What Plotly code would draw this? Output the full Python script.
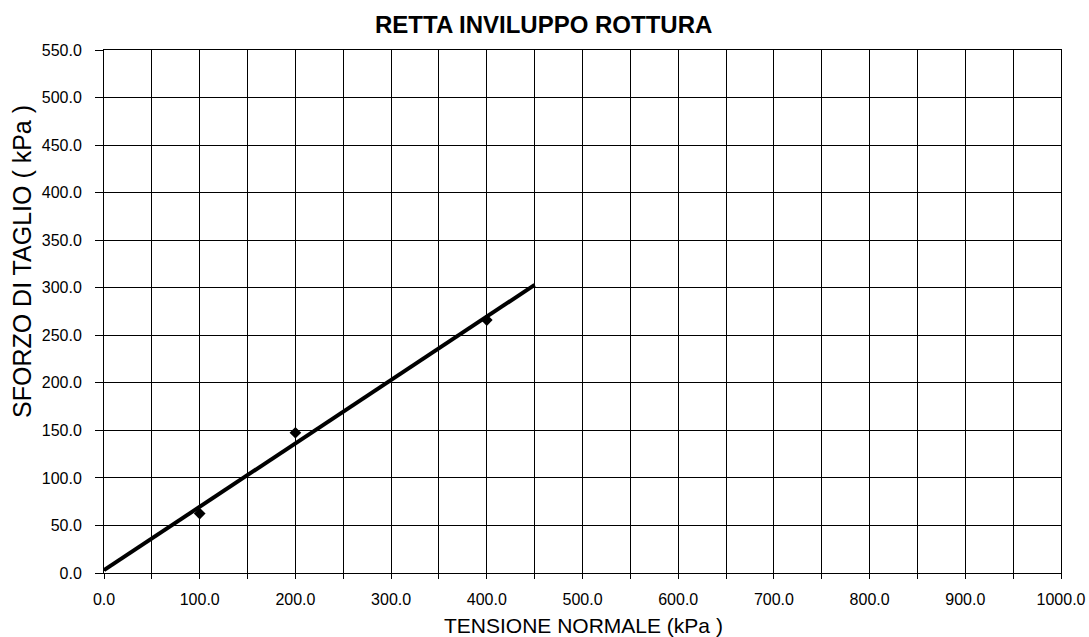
import plotly.graph_objects as go

# Shear test results: normal stress vs. shear stress at failure (kPa)
tensione_normale = [100.0, 200.0, 400.0]
sforzo_taglio = [62.5, 147.5, 266.0]

# Failure envelope endpoints (kPa)
retta_x = [0.0, 450.0]
retta_y = [3.0, 303.0]

x_ticks = [0, 100, 200, 300, 400, 500, 600, 700, 800, 900, 1000]
y_ticks = [0, 50, 100, 150, 200, 250, 300, 350, 400, 450, 500, 550]

fig = go.Figure()

fig.add_trace(go.Scatter(
    x=retta_x, y=retta_y, mode="lines",
    line=dict(color="black", width=4),
    showlegend=False, hoverinfo="skip",
))
fig.add_trace(go.Scatter(
    x=tensione_normale, y=sforzo_taglio, mode="markers",
    marker=dict(symbol="diamond", size=9, color="black"),
    showlegend=False,
))

font_family = "Liberation Sans, Arial, sans-serif"
W, H = 1089, 637
ML, MR, MT, MB = 104, 28, 50, 64

fig.update_layout(
    width=W, height=H,
    margin=dict(l=ML, r=MR, t=MT, b=MB, autoexpand=False),
    paper_bgcolor="white", plot_bgcolor="white",
    font=dict(family=font_family, color="black", size=16),
    xaxis=dict(
        range=[0, 1000],
        tickvals=x_ticks,
        ticktext=[f"{v:.1f}" for v in x_ticks],
        showgrid=True, gridcolor="black", gridwidth=1,
        minor=dict(dtick=50, showgrid=True, gridcolor="black", gridwidth=1,
                   ticks="outside", ticklen=5, tickcolor="black"),
        ticks="outside", ticklen=5, tickcolor="black",
        ticklabelstandoff=7,
        showline=True, linecolor="black", linewidth=1, mirror=True,
        zeroline=False, automargin=False,
        tickfont=dict(size=16),
    ),
    yaxis=dict(
        range=[0, 550],
        tickvals=y_ticks,
        ticktext=[f"{v:.1f}" for v in y_ticks],
        showgrid=True, gridcolor="black", gridwidth=1,
        ticks="outside", ticklen=8, tickcolor="black",
        ticklabelstandoff=10,
        showline=True, linecolor="black", linewidth=1, mirror=True,
        zeroline=False, automargin=False,
        tickfont=dict(size=16),
    ),
)

# Chart title and axis titles placed as paper-anchored text
fig.add_annotation(
    text="<b>RETTA INVILUPPO ROTTURA</b>",
    xref="paper", yref="paper",
    x=(543 - ML) / (W - ML - MR), y=(H - MB - 25) / (H - MT - MB),
    xanchor="center", yanchor="middle", showarrow=False,
    font=dict(size=24, family=font_family, color="black"),
)
fig.add_annotation(
    text="TENSIONE NORMALE (kPa )",
    xref="paper", yref="paper",
    x=(583 - ML) / (W - ML - MR), y=(H - MB - 625) / (H - MT - MB),
    xanchor="center", yanchor="middle", showarrow=False,
    font=dict(size=21, family=font_family, color="black"),
)
fig.add_annotation(
    text="SFORZO DI TAGLIO ( kPa )",
    xref="paper", yref="paper",
    x=(22 - ML) / (W - ML - MR), y=(H - MB - 262) / (H - MT - MB),
    xanchor="center", yanchor="middle", showarrow=False, textangle=-90,
    font=dict(size=25, family=font_family, color="black"),
)

fig.write_html("out.html")
